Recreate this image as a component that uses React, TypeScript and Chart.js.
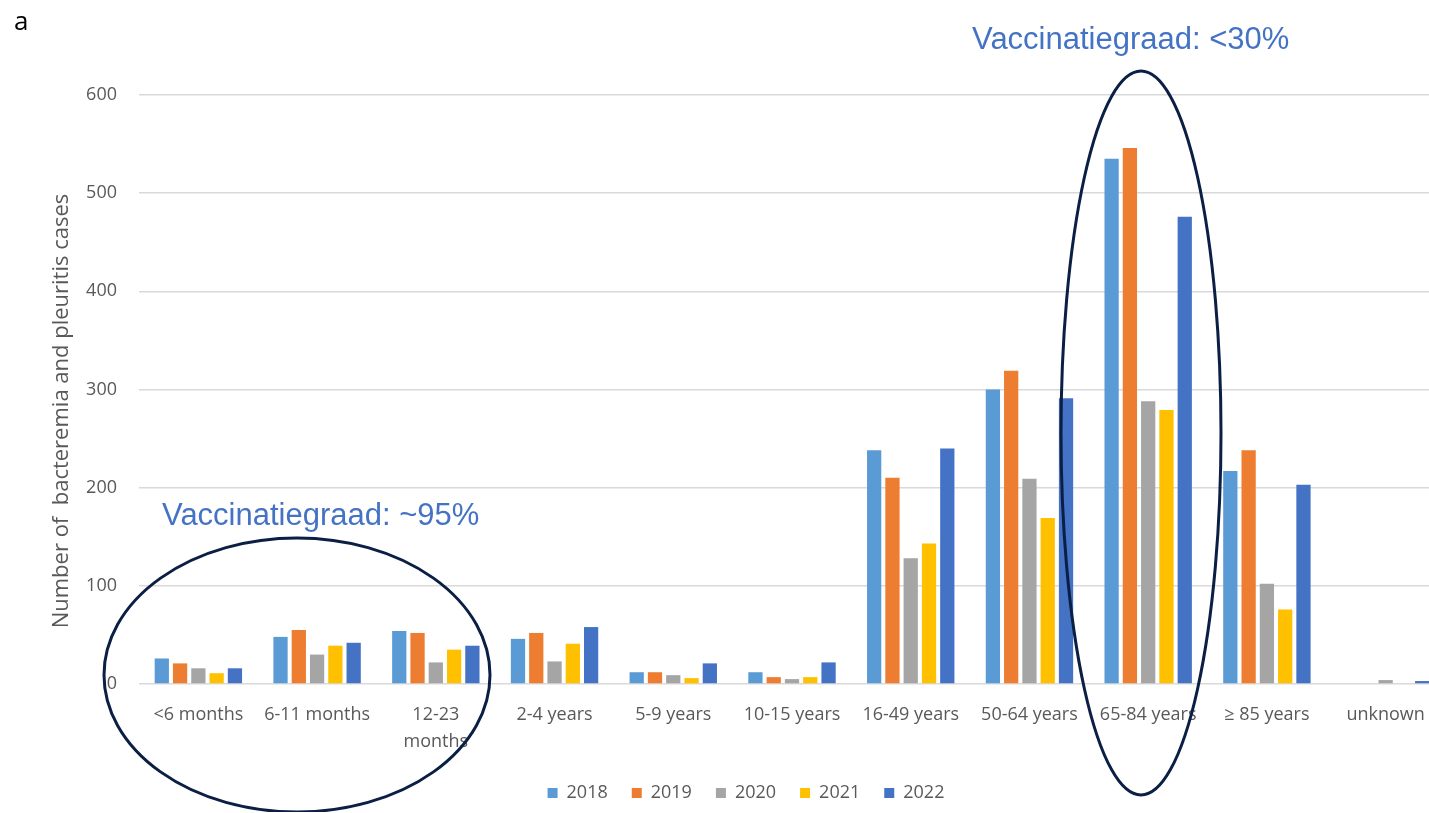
import React, { useEffect, useRef } from "react";
import { Chart, registerables } from "chart.js";

Chart.register(...registerables);

const categories: (string | string[])[] = [
  "<6 months",
  "6-11 months",
  ["12-23", "months"],
  "2-4 years",
  "5-9 years",
  "10-15 years",
  "16-49 years",
  "50-64 years",
  "65-84 years",
  "≥ 85 years",
  "unknown",
];

const years = ["2018", "2019", "2020", "2021", "2022"];
const colors = ["#5B9BD5", "#ED7D31", "#A5A5A5", "#FFC000", "#4472C4"];

const values2018 = [26, 48, 54, 46, 12, 12, 238, 300, 535, 217, 0];
const values2019 = [21, 55, 52, 52, 12, 7, 210, 319, 546, 238, 0];
const values2020 = [16, 30, 22, 23, 9, 5, 128, 209, 288, 102, 4];
const values2021 = [11, 39, 35, 41, 6, 7, 143, 169, 279, 76, 0];
const values2022 = [16, 42, 39, 58, 21, 22, 240, 291, 476, 203, 3];

const seriesValues = [values2018, values2019, values2020, values2021, values2022];

const yTicks = [0, 100, 200, 300, 400, 500, 600];

const panelLabel = "a";
const noteHigh = "Vaccinatiegraad: <30%";
const noteLow = "Vaccinatiegraad: ~95%";
const yTitle = "Number of  bacteremia and pleuritis cases";

const FONT = "'Open Sans', 'DejaVu Sans', sans-serif";
const TEXT = "#595959";

const annotationPlugin = {
  id: "annotations",
  afterDraw(chart: any) {
    const ctx = chart.ctx as CanvasRenderingContext2D;
    ctx.save();
    ctx.fillStyle = "#000";
    ctx.font = `26px ${FONT}`;
    ctx.textBaseline = "alphabetic";
    ctx.textAlign = "left";
    ctx.fillText(panelLabel, 14, 30);

    // y-axis title
    ctx.save();
    ctx.translate(62, 411);
    ctx.rotate(-Math.PI / 2);
    ctx.fillStyle = TEXT;
    ctx.font = `22px ${FONT}`;
    ctx.textAlign = "center";
    ctx.textBaseline = "middle";
    ctx.fillText(yTitle, 0, 0);
    ctx.restore();

    ctx.fillStyle = "#4472C4";
    ctx.font = "31px 'Liberation Sans', Arial, sans-serif";
    ctx.fillText(noteHigh, 972, 49);
    ctx.fillText(noteLow, 162, 525);

    ctx.strokeStyle = "#0B1F45";
    ctx.lineWidth = 3;
    ctx.beginPath();
    ctx.ellipse(297, 675, 193, 137, 0, 0, Math.PI * 2);
    ctx.stroke();
    ctx.beginPath();
    ctx.ellipse(1141, 433, 80, 362, 0, 0, Math.PI * 2);
    ctx.stroke();
    ctx.restore();
  },
};

export default function App() {
  const ref = useRef<HTMLCanvasElement | null>(null);

  useEffect(() => {
    if (!ref.current) return;
    const chart = new Chart(ref.current, {
      type: "bar",
      data: {
        labels: categories,
        datasets: years.map((y, i) => ({
          label: y,
          data: seriesValues[i],
          backgroundColor: colors[i],
          borderWidth: 0,
          barPercentage: 0.78,
          categoryPercentage: 0.77,
        })),
      },
      options: {
        responsive: false,
        animation: false,
        devicePixelRatio: 1,
        layout: { padding: { top: 95, right: 47, left: 47, bottom: 0 } },
        plugins: {
          legend: {
            position: "bottom",
            labels: {
              boxWidth: 10,
              boxHeight: 10,
              padding: 24,
              color: TEXT,
              font: { family: FONT, size: 18 },
            },
          },
          tooltip: { enabled: false },
        },
        scales: {
          x: {
            grid: { display: false, drawTicks: false },
            border: { display: false },
            ticks: {
              color: TEXT,
              font: { family: FONT, size: 18, lineHeight: 1.5 },
              autoSkip: false,
              maxRotation: 0,
              padding: 17,
            },
            afterFit(scale: any) {
              scale.height = 76;
            },
          },
          y: {
            min: 0,
            max: 600,
            afterBuildTicks(scale: any) {
              scale.ticks = yTicks.map((v) => ({ value: v }));
            },
            grid: { color: "#D9D9D9", lineWidth: 1.5, drawTicks: false },
            border: { display: false },
            ticks: {
              color: TEXT,
              font: { family: FONT, size: 18 },
              padding: 22,
            },
            afterFit(scale: any) {
              scale.width = 92;
            },
          },
        },
      },
      plugins: [annotationPlugin],
    });
    return () => chart.destroy();
  }, []);

  return (
    <div
      style={{
        position: "fixed",
        left: 0,
        top: 0,
        width: 1429,
        height: 813,
        overflow: "hidden",
        background: "#fff",
      }}
    >
      <canvas ref={ref} width={1492} height={812} style={{ display: "block" }} />
    </div>
  );
}
